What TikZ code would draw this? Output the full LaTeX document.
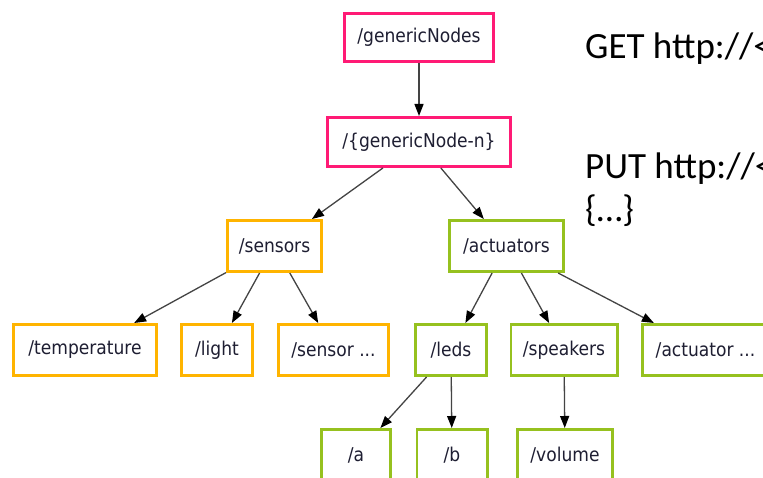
\documentclass[tikz,border=0pt]{standalone}
\usepackage{fontspec}
\setmainfont{Carlito}
\newfontfamily\boxfont{DejaVu Sans Condensed}
\usetikzlibrary{arrows.meta}
\definecolor{pinkc}{HTML}{FF1A75}
\definecolor{orangec}{HTML}{FFB400}
\definecolor{greenc}{HTML}{96C11F}
\definecolor{edgec}{HTML}{444444}
\definecolor{txtc}{HTML}{1E1E32}
\begin{document}
\begin{tikzpicture}[x=1bp,y=-1bp,
  box/.style={draw, line width=2.6bp, minimum height=48.4bp, inner sep=0pt,
    font=\boxfont\fontsize{19bp}{22bp}\selectfont, text=txtc, fill=white},
  pinkbox/.style={box, draw=pinkc},
  orangebox/.style={box, draw=orangec, minimum height=51.4bp},
  greenbox/.style={box, draw=greenc, minimum height=51.4bp},
  link/.style={draw=edgec, line width=1.3bp, -{Triangle[length=12bp,width=9bp,color=black]}},
  bigtext/.style={anchor=base west, inner sep=0pt, font=\fontsize{37bp}{44bp}\selectfont, text=black}
]
\useasboundingbox (0,0) rectangle (763,478);
\fill[white] (0,0) rectangle (763,478);
\clip (0,0) rectangle (763,478);

\node[pinkbox, minimum width=149.4bp] (gn) at (419,37.5) {/genericNodes};
\node[pinkbox, minimum width=183.4bp, minimum height=49.4bp] (gnn) at (419,142) {/\{genericNode-n\}};

\node[orangebox, minimum width=94.4bp] (sens) at (274.5,246) {/sensors};
\node[greenbox, minimum width=114.4bp] (act) at (506.5,246) {/actuators};

\node[orangebox, minimum width=143.4bp] (temp) at (85,350) {/temperature};
\node[orangebox, minimum width=71.4bp] (light) at (217,350) {/light};
\node[orangebox, minimum width=110.4bp] (sother) at (333.5,350) {/sensor ...};
\node[greenbox, minimum width=71.4bp] (leds) at (451,350) {/leds};
\node[greenbox, minimum width=106.4bp] (spk) at (564,350) {/speakers};
\node[greenbox, minimum width=126.4bp] (aother) at (705.5,350) {/actuator ...};

\node[greenbox, minimum width=69.4bp] (a) at (356,455) {/a};
\node[greenbox, minimum width=70.4bp] (b) at (452,455) {/b};
\node[greenbox, minimum width=95.4bp] (vol) at (565,455) {/volume};

\draw[link] (gn) -- (gnn);
\draw[link] (gnn) -- (sens);
\draw[link] (gnn) -- (act);
\draw[link] (sens) -- (temp);
\draw[link] (sens) -- (light);
\draw[link] (sens) -- (sother);
\draw[link] (act) -- (leds);
\draw[link] (act) -- (spk);
\draw[link] (act) -- (aother);
\draw[link] (leds) -- (a);
\draw[link] (leds) -- (b);
\draw[link] (spk) -- (vol);

\node[bigtext] (get) at (585,59) {GET http://<};
\node[bigtext] (put) at (585,179) {PUT http://<};
\node[bigtext] (body) at (585,222) {\{…\}};
\end{tikzpicture}
\end{document}
